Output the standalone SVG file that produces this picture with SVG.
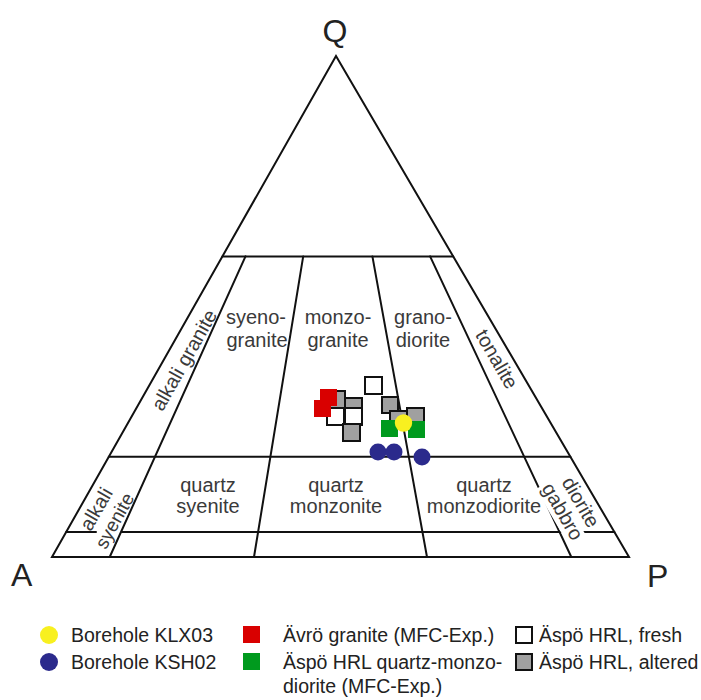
<svg xmlns="http://www.w3.org/2000/svg" width="701" height="700" viewBox="0 0 701 700">
<style>
.ln{stroke:#111;stroke-width:2;fill:none;stroke-linecap:round}
.lbl{font-family:"Liberation Sans",Arial,sans-serif;font-size:20px;fill:#3a3a3a;text-anchor:middle}
.ax{font-family:"Liberation Sans",Arial,sans-serif;font-size:32px;fill:#222}
.lg{font-family:"Liberation Sans",Arial,sans-serif;font-size:19.5px;fill:#222}
.wh{fill:#fff;stroke:#111;stroke-width:2}
.gr{fill:#a0a0a0;stroke:#111;stroke-width:2}
.rd{fill:#d90000}
.gn{fill:#009a1e}
.ye{fill:#f8f020}
.bl{fill:#2b2a8c}
</style>
<rect width="701" height="700" fill="#fff"/>
<g id="connectors">
<polygon class="ln" points="52,557 629,557 336,56" stroke-linejoin="miter"/>
<line class="ln" x1="222.4" y1="256.4" x2="453.2" y2="256.4" stroke-width="2.5" stroke="#333"/>
<line class="ln" x1="108.8" y1="456.8" x2="570.4" y2="456.8"/>
<line class="ln" x1="66.2" y1="532" x2="96" y2="532"/>
<line class="ln" x1="122" y1="532" x2="614.4" y2="532"/>
<line class="ln" x1="245.5" y1="256.4" x2="109.7" y2="557"/>
<line class="ln" x1="303.2" y1="256.4" x2="254" y2="557"/>
<line class="ln" x1="372.4" y1="256.4" x2="427" y2="557"/>
<line class="ln" x1="430.1" y1="256.4" x2="571.3" y2="557"/>
</g>
<g id="Q"><text class="ax" x="335" y="42" text-anchor="middle">Q</text></g>
<g id="A"><text class="ax" x="11" y="586">A</text></g>
<g id="P"><text class="ax" x="647" y="587">P</text></g>
<g id="alkali-granite"><text class="lbl" transform="translate(184,360) rotate(-60.5)" y="7">alkali granite</text></g>
<g id="syenogranite"><text class="lbl" x="256" y="324">syeno-</text><text class="lbl" x="257" y="347">granite</text></g>
<g id="monzogranite"><text class="lbl" x="338" y="324">monzo-</text><text class="lbl" x="338" y="347">granite</text></g>
<g id="granodiorite"><text class="lbl" x="423" y="324">grano-</text><text class="lbl" x="423" y="347">diorite</text></g>
<g id="tonalite"><text class="lbl" transform="translate(497,359) rotate(60)" y="7">tonalite</text></g>
<g id="alkali-syenite">
<text class="lbl" transform="translate(96,509) rotate(-60)" y="7">alkali</text>
<text class="lbl" transform="translate(115,521) rotate(-61)" y="6" style="font-size:19px">syenite</text>
</g>
<g id="quartz-syenite"><text class="lbl" x="208" y="492">quartz</text><text class="lbl" x="208" y="513">syenite</text></g>
<g id="quartz-monzonite"><text class="lbl" x="336" y="492">quartz</text><text class="lbl" x="336" y="513">monzonite</text></g>
<g id="quartz-monzodiorite"><text class="lbl" x="484" y="492">quartz</text><text class="lbl" x="484" y="513">monzodiorite</text></g>
<g id="diorite-gabbro">
<text class="lbl" transform="translate(581,502) rotate(60)" y="7">diorite</text>
<g transform="translate(562,512) rotate(60)"><rect x="-33" y="-9" width="66" height="20" fill="#fff"/><text class="lbl" y="6">gabbro</text></g>
</g>
<g id="data">
<rect class="gr" x="328" y="391" width="17" height="17"/>
<rect class="gr" x="345" y="398" width="17" height="17"/>
<rect class="wh" x="327" y="408" width="17" height="17"/>
<rect class="wh" x="345" y="408" width="17" height="17"/>
<rect class="gr" x="343" y="424" width="17" height="17"/>
<rect class="rd" x="320" y="389" width="17" height="17"/>
<rect class="rd" x="314" y="400" width="17" height="17"/>
<rect class="wh" x="365" y="377" width="17" height="17"/>
<rect class="gr" x="382" y="397" width="16" height="16"/>
<rect class="gr" x="390" y="411" width="17" height="17"/>
<rect class="gr" x="407" y="408" width="17" height="17"/>
<rect class="gn" x="381" y="420" width="17" height="17"/>
<rect class="gn" x="408" y="421" width="17" height="17"/>
<circle class="ye" cx="403.5" cy="423" r="8.7"/>
<circle class="bl" cx="378" cy="452" r="8.5"/>
<circle class="bl" cx="394" cy="452" r="8.5"/>
<circle class="bl" cx="422" cy="457" r="8.5"/>
</g>
<g id="legend">
<circle class="ye" cx="49" cy="635" r="9"/>
<text class="lg" x="71" y="642">Borehole KLX03</text>
<circle class="bl" cx="49" cy="662" r="9"/>
<text class="lg" x="71" y="669">Borehole KSH02</text>
<rect class="rd" x="243" y="626" width="17" height="17"/>
<text class="lg" x="283" y="642">Ävrö granite (MFC-Exp.)</text>
<rect class="gn" x="243" y="653" width="17" height="17"/>
<text class="lg" x="283" y="669">Äspö HRL quartz-monzo-</text>
<text class="lg" x="283" y="693">diorite (MFC-Exp.)</text>
<rect class="wh" x="516" y="627" width="16" height="16"/>
<text class="lg" x="539" y="642">Äspö HRL, fresh</text>
<rect class="gr" x="516" y="654" width="16" height="16"/>
<text class="lg" x="539" y="669">Äspö HRL, altered</text>
</g>
</svg>
